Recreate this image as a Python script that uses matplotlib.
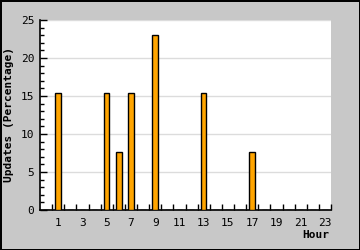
import matplotlib
matplotlib.use("Agg")
from matplotlib import pyplot as plt
from matplotlib.ticker import MultipleLocator, FixedLocator
import numpy as np

# data
hours = list(range(24))
updates = [0, 15.38, 0, 0, 0, 15.38, 7.69, 15.38, 0, 23.08, 0, 0,
           0, 15.38, 0, 0, 0, 7.69, 0, 0, 0, 0, 0, 0]
tick_labels = [str(h) for h in range(1, 24, 2)]

plt.rcParams["font.family"] = ["DejaVu Sans Mono", "DejaVu Sans"]

fig = plt.figure(figsize = (3.6, 2.5), dpi = 100, facecolor = "#c8c8c8",
                 edgecolor = "black", linewidth = 1)
ax = fig.add_axes([40 / 360, 40 / 250, 291 / 360, 190 / 250])

x = np.array(hours) + 0.5
ax.bar(x, updates, width = 0.45, color = "#ffa500", edgecolor = "black",
       linewidth = 1, zorder = 3)

ax.set_xlim(0, 24)
ax.set_ylim(0, 25)

ax.yaxis.set_major_locator(MultipleLocator(5))
ax.yaxis.set_minor_locator(MultipleLocator(1))
ax.grid(axis = "y", which = "major", color = "#dcdcdc", linewidth = 1, zorder = 0)

# tick marks on category boundaries, labels on odd hours
ax.xaxis.set_major_locator(FixedLocator(np.arange(1.5, 24, 2)))
ax.set_xticklabels(tick_labels)
ax.xaxis.set_minor_locator(FixedLocator(np.arange(1, 25)))
ax.tick_params(axis = "x", which = "major", length = 0, pad = 6, labelsize = 8)
ax.tick_params(axis = "x", which = "minor", direction = "in", length = 4, width = 1)
ax.tick_params(axis = "y", which = "major", direction = "in", length = 5, width = 1,
               labelsize = 8, pad = 4)
ax.tick_params(axis = "y", which = "minor", direction = "in", length = 3, width = 1)

for s in ["top", "right"]:
    ax.spines[s].set_visible(False)
ax.spines["left"].set_linewidth(1.2)
ax.spines["bottom"].set_linewidth(1.2)

ax.set_ylabel("Updates (Percentage)", fontsize = 8, fontweight = "bold",
              labelpad = 5)
fig.text(329 / 360, 1 - 235 / 250, "Hour", fontsize = 8, fontweight = "bold",
         ha = "right", va = "center")

fig.savefig("out.png", dpi = 100, facecolor = fig.get_facecolor(),
            edgecolor = fig.get_edgecolor())
